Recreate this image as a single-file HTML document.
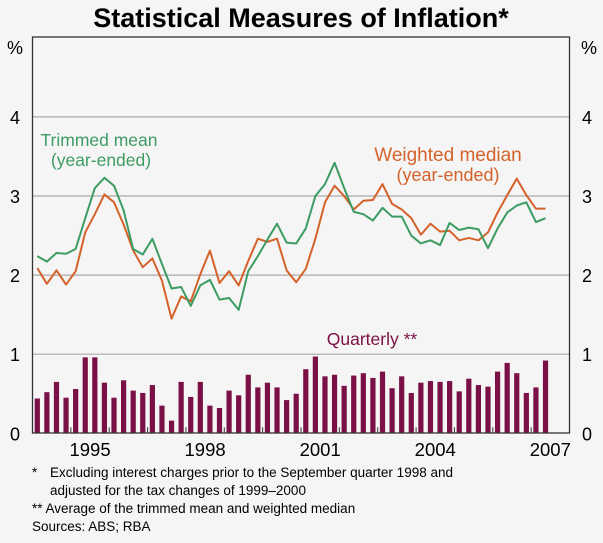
<!DOCTYPE html>
<html><head><meta charset="utf-8"><style>
body{margin:0;background:#f5f5f5;}
svg{display:block;font-family:"Liberation Sans",Arial,sans-serif;}
</style></head><body>
<svg id="chart" width="603" height="543">
<rect width="603" height="543" fill="#f5f5f5"/>
<text x="301" y="27" text-anchor="middle" font-size="27" font-weight="bold" fill="#000">Statistical Measures of Inflation*</text>
<g id="grid"></g>
<g id="bars"></g>
<g id="lines"></g>
<rect x="32.5" y="37" width="537" height="396" fill="none" stroke="#333" stroke-width="1.3"/>
<g id="axes"></g>
<text x="15" y="54" text-anchor="middle" font-size="18">%</text>
<text x="589" y="54" text-anchor="middle" font-size="18">%</text>
<text x="99" y="146" text-anchor="middle" font-size="17.5" fill="#3d9c63">Trimmed mean</text>
<text x="101" y="166" text-anchor="middle" font-size="17.5" fill="#3d9c63">(year-ended)</text>
<text x="448" y="161" text-anchor="middle" font-size="19" fill="#d4622a">Weighted median</text>
<text x="448" y="181" text-anchor="middle" font-size="18" fill="#d4622a">(year-ended)</text>
<text x="372" y="345" text-anchor="middle" font-size="17.5" fill="#7a1045">Quarterly **</text>
<g font-size="13.5" fill="#000">
<text x="32" y="477">*</text>
<text x="50" y="477">Excluding interest charges prior to the September quarter 1998 and</text>
<text x="50" y="495">adjusted for the tax changes of 1999–2000</text>
<text x="32" y="513">** Average of the trimmed mean and weighted median</text>
<text x="32" y="531">Sources: ABS; RBA</text>
</g>
</svg>
<script>
const startYear = 1994;
const yTicks = [0, 1, 2, 3, 4];
const yearLabels = [1995, 1998, 2001, 2004, 2007];
const quarterly = [0.44,0.52,0.65,0.45,0.56,0.96,0.96,0.64,0.45,0.67,0.54,0.51,0.61,0.35,0.16,0.65,0.46,0.65,0.35,0.32,0.54,0.48,0.74,0.58,0.64,0.58,0.42,0.50,
0.81,0.97,0.72,0.74,0.60,0.73,0.76,0.70,0.78,0.57,0.72,0.51,0.64,0.66,0.65,0.66,0.53,0.69,0.61,0.59,0.78,0.89,0.76,0.51,0.58,0.92];
const trimmedMean = [2.24,2.17,2.28,2.27,2.33,2.72,3.10,3.23,3.13,2.82,2.33,2.26,2.46,2.14,1.83,1.85,1.61,1.87,1.94,1.69,1.71,1.56,2.05,2.24,2.45,2.65,2.41,2.40,
2.59,3.00,3.15,3.42,3.10,2.80,2.77,2.69,2.85,2.74,2.74,2.50,2.40,2.44,2.38,2.66,2.57,2.60,2.58,2.34,2.59,2.79,2.88,2.92,2.67,2.72];
const weightedMedian = [2.09,1.89,2.06,1.88,2.05,2.54,2.77,3.02,2.92,2.64,2.31,2.10,2.21,1.93,1.45,1.73,1.67,2.01,2.31,1.90,2.05,1.87,2.18,2.46,2.42,2.46,2.06,1.91,
2.08,2.46,2.92,3.13,3.00,2.83,2.94,2.95,3.15,2.90,2.83,2.72,2.51,2.65,2.55,2.56,2.44,2.47,2.44,2.54,2.79,3.01,3.22,3.01,2.84,2.84];

const NS = "http://www.w3.org/2000/svg";
const X0 = 32.5, X1 = 569.5, Y0 = 433.3, PX = 79.1;
const qw = (X1 - X0) / 56;
const xq = i => X0 + (i + 0.5) * qw;
const xYear = y => X0 + (y - startYear) * 4 * qw;
const yv = v => Y0 - v * PX;
function mk(tag, attrs, parent) {
  const e = document.createElementNS(NS, tag);
  for (const k in attrs) e.setAttribute(k, attrs[k]);
  parent.appendChild(e);
  return e;
}
const grid = document.getElementById('grid');
const axes = document.getElementById('axes');
yTicks.forEach(t => {
  if (t > 0) {
    const g = mk('line', {x1: X0, x2: X1, y1: yv(t), y2: yv(t), stroke: '#aaa', 'stroke-width': 1.2}, grid);
    
    
  }
  const l = mk('text', {x: 15, y: yv(t) + 7, 'text-anchor': 'middle', 'font-size': 18}, axes);
  l.textContent = t;
  
  
  const r = mk('text', {x: 587, y: yv(t) + 7, 'text-anchor': 'middle', 'font-size': 18}, axes);
  r.textContent = t;
  
  
});
for (let y = startYear + 1; y < startYear + 14; y++) {
  const t = mk('line', {x1: xYear(y), x2: xYear(y), y1: Y0, y2: Y0 - 6, stroke: '#333', 'stroke-width': 1}, axes);
  
  
}
yearLabels.forEach(y => {
  const l = mk('text', {x: xYear(y) + 2 * qw, y: 456, 'text-anchor': 'middle', 'font-size': 18.5}, axes);
  l.textContent = y;
  
  
});
const bars = document.getElementById('bars');
quarterly.forEach((v, i) => {
  const b = mk('rect', {x: xq(i) - 2.6, y: yv(v), width: 5.2, height: Y0 - yv(v), fill: '#7a1045'}, bars);
  
  
});
const lines = document.getElementById('lines');
function series(data, color, name) {
  const p = mk('polyline', {points: data.map((v, i) => xq(i) + ',' + yv(v)).join(' '), fill: 'none', stroke: color, 'stroke-width': 2, 'stroke-linejoin': 'round'}, lines);
  
  
}
series(weightedMedian, '#d4622a', 'weighted-median-line');
series(trimmedMean, '#3d9c63', 'trimmed-mean-line');
</script>
</body></html>
